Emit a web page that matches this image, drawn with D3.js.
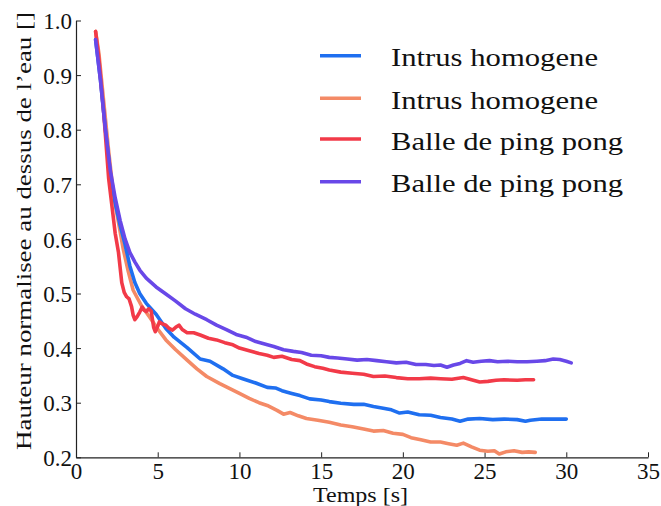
<!DOCTYPE html>
<html><head><meta charset="utf-8">
<script src="https://cdn.jsdelivr.net/npm/d3@7"></script>
<style>body{margin:0;background:#fff}svg{display:block}text{font-family:"Liberation Serif","DejaVu Serif",serif;fill:#111}</style>
</head><body><svg id="c" width="661" height="506"></svg>
<script>
const xTicks = [0,5,10,15,20,25,30,35];
const yTicks = [0.2,0.3,0.4,0.5,0.6,0.7,0.8,0.9,1.0];
const seriesNames = ["Intrus homogene","Intrus homogene","Balle de ping pong","Balle de ping pong"];
const seriesColors = ["#1f6ff0","#f48a66","#f23a48","#6848e8"];

const blueT = [1.2,1.5,1.8,2.1,2.4,2.7,3.0,3.3,3.6,3.9,4.3,4.9,5.5,6.0,6.8,7.6,8.2,9.0,9.6,10.2,11.0,11.7,12.2,12.6,13.2,13.7,14.3,15.0,15.5,16.2,17.0,17.6,18.2,18.8,19.3,19.8,20.3,21.0,21.7,22.3,23.0,23.5,24.0,24.7,25.5,26.2,27.0,27.5,27.8,28.5,29.2,30.0];
const blueV = [0.965,0.89,0.80,0.72,0.665,0.625,0.59,0.55,0.52,0.50,0.482,0.462,0.436,0.42,0.401,0.38,0.376,0.362,0.35,0.344,0.336,0.328,0.327,0.322,0.317,0.313,0.307,0.305,0.302,0.299,0.297,0.297,0.293,0.29,0.287,0.281,0.283,0.278,0.277,0.273,0.27,0.266,0.27,0.271,0.269,0.27,0.269,0.266,0.268,0.27,0.27,0.27];

const salmonT = [1.2,1.4,1.7,2.0,2.3,2.6,2.9,3.2,3.5,4.0,4.5,5.0,5.5,6.1,6.8,7.4,8.0,8.8,9.6,10.0,10.6,11.2,11.7,12.3,12.7,13.1,13.6,14.1,14.8,15.5,16.2,16.9,17.6,18.2,18.8,19.4,20.0,20.5,21.1,21.7,22.3,22.8,23.3,23.7,24.2,24.7,25.2,25.6,25.9,26.3,26.8,27.3,27.7,28.1];
const salmonV = [0.98,0.94,0.85,0.76,0.68,0.63,0.58,0.54,0.506,0.478,0.457,0.435,0.415,0.397,0.378,0.362,0.348,0.335,0.323,0.317,0.308,0.30,0.295,0.286,0.279,0.282,0.276,0.271,0.268,0.264,0.259,0.256,0.252,0.248,0.249,0.244,0.242,0.236,0.232,0.228,0.228,0.225,0.222,0.226,0.219,0.213,0.211,0.212,0.206,0.21,0.212,0.209,0.21,0.209];

const redT = [1.2,1.4,1.7,2.0,2.2,2.4,2.6,2.8,2.95,3.1,3.25,3.4,3.5,3.6,3.75,3.9,4.05,4.15,4.3,4.45,4.6,4.75,4.85,5.0,5.1,5.3,5.5,5.7,5.9,6.1,6.3,6.5,6.8,7.2,7.6,8.1,8.6,9.1,9.6,10.0,10.6,11.2,11.7,12.1,12.6,13.2,13.7,14.1,14.6,15.1,15.5,16.2,16.9,17.6,18.2,18.9,19.6,20.3,21.0,21.7,22.3,23.0,23.7,24.2,24.7,25.2,25.7,26.2,27.0,27.5,28.0];
const redV = [0.98,0.93,0.83,0.71,0.66,0.61,0.575,0.52,0.502,0.494,0.49,0.476,0.46,0.452,0.458,0.466,0.475,0.47,0.467,0.472,0.468,0.438,0.43,0.44,0.448,0.444,0.442,0.436,0.433,0.438,0.442,0.434,0.428,0.428,0.424,0.418,0.415,0.41,0.406,0.40,0.395,0.39,0.387,0.383,0.385,0.379,0.377,0.371,0.366,0.363,0.36,0.356,0.354,0.352,0.348,0.349,0.346,0.344,0.344,0.345,0.344,0.343,0.346,0.342,0.338,0.339,0.341,0.342,0.341,0.342,0.342];

const purpleT = [1.2,1.5,1.8,2.1,2.4,2.7,3.0,3.3,3.6,3.9,4.3,4.9,5.5,6.1,6.7,7.3,8.0,8.6,9.2,9.8,10.4,11.0,11.6,12.1,12.7,13.3,13.8,14.4,15.0,15.5,16.0,16.6,17.2,17.8,18.4,19.0,19.6,20.2,20.8,21.4,21.9,22.3,22.7,23.1,23.5,23.9,24.3,24.8,25.3,25.8,26.4,27.0,27.6,28.2,28.7,29.2,29.6,30.0,30.3];
const purpleV = [0.965,0.89,0.80,0.725,0.675,0.634,0.60,0.575,0.558,0.543,0.528,0.512,0.499,0.486,0.472,0.462,0.452,0.442,0.434,0.425,0.42,0.412,0.407,0.403,0.397,0.394,0.392,0.387,0.386,0.383,0.382,0.38,0.378,0.379,0.377,0.375,0.373,0.374,0.37,0.37,0.368,0.369,0.365,0.369,0.372,0.377,0.374,0.376,0.377,0.375,0.376,0.375,0.375,0.376,0.377,0.38,0.379,0.376,0.373];

const series = [
  {t: blueT, v: blueV},
  {t: salmonT, v: salmonV},
  {t: redT, v: redV},
  {t: purpleT, v: purpleV}
];

const svg = d3.select("#c");
const x = d3.scaleLinear().domain([0,35]).range([76,648]);
const y = d3.scaleLinear().domain([0.2,1.0]).range([457.3,20.5]);

// axes
const xAx = svg.append("g").attr("transform","translate(0,457.3)")
  .call(d3.axisBottom(x).tickValues(xTicks).tickSizeInner(-5).tickSizeOuter(0).tickPadding(8).tickFormat(d3.format("d")));
const yAx = svg.append("g").attr("transform","translate(76,0)")
  .call(d3.axisLeft(y).tickValues(yTicks).tickSizeInner(-5).tickSizeOuter(0).tickPadding(6).tickFormat(d3.format(".1f")));
[xAx,yAx].forEach(g=>{
  g.select(".domain").attr("stroke","#222").attr("stroke-width",1.2);
  g.selectAll(".tick line").attr("stroke","#222").attr("stroke-width",1);
  g.selectAll(".tick text").attr("font-size",23).attr("fill","#111").attr("font-family","Liberation Serif, serif");
});
xAx.selectAll(".tick text").attr("dy","0.71em").attr("y",5);
yAx.selectAll(".tick text").attr("x",-4).attr("dy","0.36em");

// lines
const line = d3.line().x(d=>x(d[0])).y(d=>y(d[1])).curve(d3.curveLinear);
// draw order: salmon, blue, red, purple
[1,0,2,3].forEach(i=>{
  const s = series[i];
  const pts = s.t.map((t,j)=>[t,s.v[j]]);
  svg.append("path").attr("d",line(pts)).attr("fill","none")
    .attr("stroke",seriesColors[i]).attr("stroke-width",3.6)
    .attr("stroke-linejoin","round").attr("stroke-linecap","round");
});

// legend
const legY = [55.7,98.3,139,181.7];
seriesNames.forEach((n,i)=>{
  svg.append("line").attr("x1",320).attr("x2",361).attr("y1",legY[i]).attr("y2",legY[i])
    .attr("stroke",seriesColors[i]).attr("stroke-width",3.6);
  svg.append("text").attr("x",391).attr("y",legY[i]+10.5).attr("font-size",25)
    .attr("textLength", i<2 ? 207 : 232).attr("lengthAdjust","spacingAndGlyphs").text(n);
});

// axis labels
svg.append("text").attr("x",360.5).attr("y",502).attr("text-anchor","middle").attr("font-size",21)
  .attr("textLength",95).attr("lengthAdjust","spacingAndGlyphs").text("Temps [s]");
svg.append("text").attr("transform","translate(31,231) rotate(-90)").attr("text-anchor","middle").attr("font-size",22)
  .attr("textLength",438).attr("lengthAdjust","spacingAndGlyphs").text("Hauteur normalisee au dessus de l\u2019eau []");
</script></body></html>
